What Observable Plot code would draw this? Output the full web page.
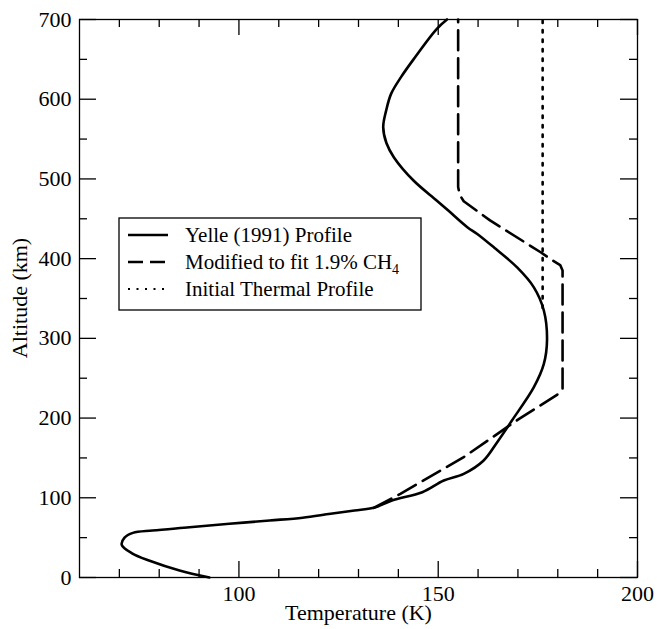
<!DOCTYPE html>
<html><head><meta charset="utf-8">
<script src="https://cdn.jsdelivr.net/npm/d3@7"></script>
<script src="https://cdn.jsdelivr.net/npm/@observablehq/plot@0.6"></script>
<style>body{margin:0;background:#fff;}</style>
</head><body><div id="chart"></div>
<script>
// Yelle (1991) profile: temperature (K) vs altitude (km)
const yelleT = [92.6, 85.1, 77.6, 73.3, 70.6, 71.3, 73.4, 78.3, 87.6, 97.6, 107.7, 116, 123, 129, 133.8, 138.4, 146, 151.4, 156.4, 161.4, 164.8, 168.5, 174, 176.5, 177.3, 176.5, 174, 169.8, 164, 159.8, 157.3, 152.6, 149.6, 143.8, 138.9, 137, 136.2, 136.9, 138.2, 140.7, 143.8, 149.6, 152.2];
const yelleZ = [0, 8.8, 21, 30, 41, 50, 56, 59, 63, 67.4, 71.5, 75, 80, 84, 87.4, 96.6, 107, 121.7, 130, 146.8, 169.8, 197, 238.8, 268, 298, 335, 364, 389, 414, 431, 439.5, 460, 473, 498, 527, 545, 565, 585, 607, 628, 650, 688, 700];
// Modified to fit 1.9% CH4
const modT = [133.8, 140.5, 156.4, 170, 179.8, 181.2, 181.2, 180.6, 178.6, 175.7, 163, 156.4, 155.4, 155, 155];
const modZ = [87.4, 105, 151, 198, 229, 237, 385, 392, 398, 408, 448, 472, 480, 490, 700];
// Initial thermal profile (isothermal part)
const initT = [176.2, 176.2];
const initZ = [338, 700];

const xMajor = [100, 150, 200];
const xMinor = [70, 80, 90, 110, 120, 130, 140, 160, 170, 180, 190];
const yMajor = [0, 100, 200, 300, 400, 500, 600, 700];
const yMinor = [50, 150, 250, 350, 450, 550, 650];
const legendLabels = ["Yelle (1991) Profile", "Modified to fit 1.9% CH", "Initial Thermal Profile"];
const xTitle = "Temperature (K)";
const yTitle = "Altitude (km)";

const toRows = (T, Z) => T.map((t, i) => ({T: t, z: Z[i]}));
const FONT = "'Liberation Serif', 'Times New Roman', serif";

const W = 657, H = 629, ML = 79, MR = 20, MT = 19, MB = 52;
const FW = W - ML - MR, FH = H - MT - MB;
const tk = {stroke: "black", strokeWidth: 1.3};

const plot = Plot.plot({
  width: W, height: H,
  marginLeft: ML, marginRight: MR, marginTop: MT, marginBottom: MB,
  style: {fontFamily: FONT, fontSize: "22px", color: "black", background: "white"},
  x: {domain: [60, 200]},
  y: {domain: [0, 700]},
  marks: [
    Plot.line(toRows(yelleT, yelleZ), {x: "T", y: "z", stroke: "black", strokeWidth: 2.6, curve: "catmull-rom"}),
    Plot.line(toRows(modT, modZ), {x: "T", y: "z", stroke: "black", strokeWidth: 2.6, strokeDasharray: "20,8"}),
    Plot.line(toRows(initT, initZ), {x: "T", y: "z", stroke: "black", strokeWidth: 2.6, strokeDasharray: "2.6,6.9"}),
    // inward ticks
    Plot.tickX(xMajor, {x: d => d, insetTop: FH - 16, ...tk}),
    Plot.tickX(xMinor, {x: d => d, insetTop: FH - 8, ...tk}),
    Plot.tickX(xMajor, {x: d => d, insetBottom: FH - 16, ...tk}),
    Plot.tickX(xMinor, {x: d => d, insetBottom: FH - 8, ...tk}),
    Plot.tickY(yMajor, {y: d => d, insetRight: FW - 17, ...tk}),
    Plot.tickY(yMinor, {y: d => d, insetRight: FW - 8, ...tk}),
    Plot.tickY(yMajor, {y: d => d, insetLeft: FW - 17, ...tk}),
    Plot.tickY(yMinor, {y: d => d, insetLeft: FW - 8, ...tk}),
    Plot.axisX(xMajor, {anchor: "bottom", tickSize: 0, tickPadding: 8, label: null}),
    Plot.axisY(yMajor, {anchor: "left", tickSize: 0, tickPadding: 8, label: null}),
    Plot.frame({stroke: "black", strokeWidth: 1.3}),
    Plot.text([xTitle], {frameAnchor: "bottom", dy: 42, text: d => d})
  ]
});
document.getElementById("chart").appendChild(plot);

const svg = d3.select(plot);
// Y axis title
svg.append("text")
  .attr("transform", `translate(${ML - 59},${MT + FH / 2}) rotate(-90)`)
  .attr("text-anchor", "middle").attr("dy", "0.32em")
  .attr("font-family", FONT).attr("font-size", 22).attr("fill", "black")
  .text(yTitle);

// Legend box
const lg = svg.append("g").attr("font-family", FONT).attr("font-size", 21)
  .attr("fill", "black").attr("text-anchor", "start");
lg.append("rect").attr("x", 119).attr("y", 218).attr("width", 302).attr("height", 92)
  .attr("fill", "white").attr("stroke", "black").attr("stroke-width", 1.3);
const dashes = [null, "15,7", "2,6.5"];
const widths = [2.6, 2.6, 2];
legendLabels.forEach((lab, i) => {
  const base = 242 + i * 27;
  lg.append("line").attr("x1", 128).attr("x2", 168).attr("y1", base - 7).attr("y2", base - 7)
    .attr("stroke", "black").attr("stroke-width", widths[i])
    .attr("stroke-dasharray", dashes[i]);
  const t = lg.append("text").attr("x", 185).attr("y", base).text(lab);
  if (i === 1) t.append("tspan").attr("dy", 5).attr("font-size", 14).text("4");
});
</script>
</body></html>
